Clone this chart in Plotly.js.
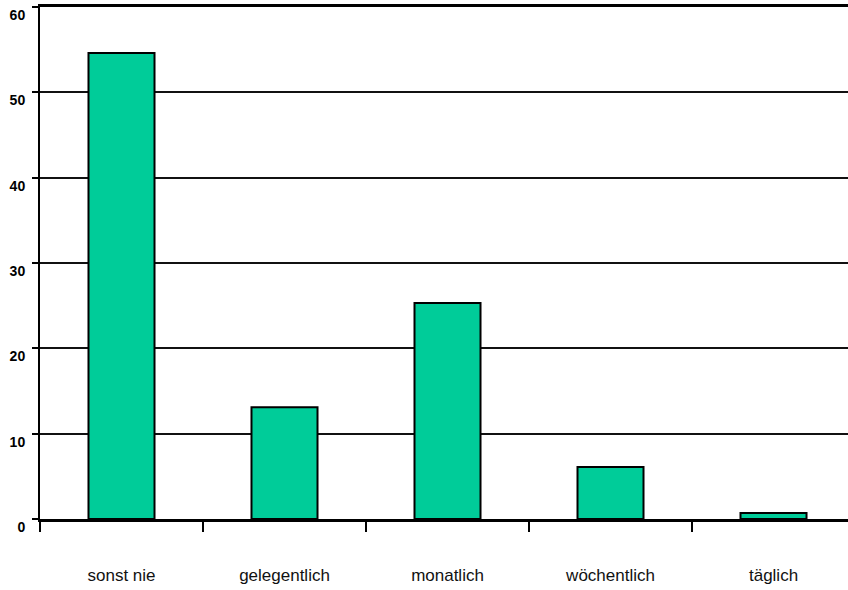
<!DOCTYPE html>
<html>
<head>
<meta charset="utf-8">
<script src="https://cdn.plot.ly/plotly-3.0.1.min.js"></script>
<style>
  html, body { margin: 0; padding: 0; background: #fff; }
  #chart { width: 848px; height: 590px; }
</style>
</head>
<body>
<div id="chart"></div>
<script>
// Häufigkeit (in Prozent)
const categories = ['sonst nie', 'gelegentlich', 'monatlich', 'wöchentlich', 'täglich'];
const values = [54.6, 13.1, 25.3, 6.1, 0.7];
const yTicks = [0, 10, 20, 30, 40, 50, 60];

const trace = {
  type: 'bar',
  x: categories,
  y: values,
  marker: {
    color: '#00CC99',
    line: { color: '#000000', width: 2 }
  },
  hoverinfo: 'x+y'
};

const layout = {
  width: 848,
  height: 590,
  margin: { l: 40, r: 0, t: 7, b: 71, pad: 0 },
  paper_bgcolor: '#ffffff',
  plot_bgcolor: '#ffffff',
  showlegend: false,
  bargap: 0.595,
  xaxis: {
    type: 'category',
    range: [-0.5, 4.457],
    showline: true,
    linecolor: '#000000',
    linewidth: 3,
    mirror: true,
    showgrid: false,
    zeroline: false,
    ticks: 'outside',
    tickson: 'boundaries',
    ticklen: 10,
    tickwidth: 2,
    tickcolor: '#000000',
    ticklabelstandoff: 39,
    tickfont: { family: 'Liberation Sans, Arial, sans-serif', size: 17, color: '#111111' },
    fixedrange: true
  },
  yaxis: {
    range: [0, 60],
    tickvals: yTicks,
    ticktext: yTicks.map(String),
    showline: true,
    linecolor: '#000000',
    linewidth: 2,
    showgrid: true,
    gridcolor: '#111111',
    gridwidth: 2,
    zeroline: false,
    ticks: 'outside',
    ticklen: 6,
    tickwidth: 2,
    tickcolor: '#000000',
    ticklabelshift: 8,
    ticklabelstandoff: 4,
    tickfont: { family: 'Liberation Sans, Arial, sans-serif', size: 14, color: '#000000', weight: 'bold' },
    fixedrange: true
  }
};

Plotly.newPlot('chart', [trace], layout, { displayModeBar: false, staticPlot: true });
</script>
</body>
</html>
